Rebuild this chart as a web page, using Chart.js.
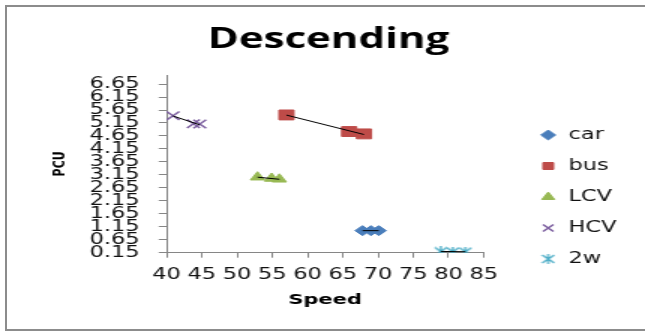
<!DOCTYPE html>
<html>
<head>
<meta charset="utf-8">
<script src="https://cdn.jsdelivr.net/npm/chart.js@4.4.1/dist/chart.umd.min.js"></script>
<style>
  html, body { margin: 0; padding: 0; background: #fff; overflow: hidden; width: 645px; height: 334px; }
  #frame { position: absolute; left: 5px; top: 5px; width: 700px; height: 322px; border: 2px solid #8c8c8c; box-sizing: content-box; }
  #wrap { position: absolute; left: 0; top: 0; width: 430px; height: 334px; transform: scaleX(1.5); transform-origin: 0 0; }
</style>
</head>
<body>
<div id="frame"></div>
<div id="wrap"><canvas id="c"></canvas></div>
<script>
// ---- data ----
const seriesNames = ['car', 'bus', 'LCV', 'HCV', '2w'];
const carSpeed = [67.8, 69.0, 70.1];
const carPCU   = [1.00, 1.00, 1.00];
const busSpeed = [57.0, 65.9, 68.0];
const busPCU   = [5.46, 4.82, 4.73];
const lcvSpeed = [52.9, 54.9, 56.0];
const lcvPCU   = [3.06, 3.01, 2.98];
const hcvSpeed = [40.9, 43.8, 44.7];
const hcvPCU   = [5.43, 5.12, 5.11];
const twSpeed  = [78.9, 80.6, 82.4];
const twPCU    = [0.20, 0.19, 0.19];
const yTickLabels = [0.15, 0.65, 1.15, 1.65, 2.15, 2.65, 3.15, 3.65, 4.15, 4.65, 5.15, 5.65, 6.15, 6.65];
const xTickLabels = [40, 45, 50, 55, 60, 65, 70, 75, 80, 85];

const colors = ['#4A7EBB', '#BE4B48', '#98B954', '#7D60A0', '#46AAC5'];

function pts(xs, ys) { return xs.map((x, i) => ({ x: x, y: ys[i] })); }
// linear trendline through a series (as the spreadsheet's linear trendline)
function trend(xs, ys) {
  const n = xs.length;
  const mx = xs.reduce((a, b) => a + b, 0) / n;
  const my = ys.reduce((a, b) => a + b, 0) / n;
  let sxy = 0, sxx = 0;
  for (let i = 0; i < n; i++) { sxy += (xs[i] - mx) * (ys[i] - my); sxx += (xs[i] - mx) * (xs[i] - mx); }
  const b = sxx ? sxy / sxx : 0, a = my - b * mx;
  const x0 = Math.min(...xs), x1 = Math.max(...xs);
  return [{ x: x0, y: a + b * x0 }, { x: x1, y: a + b * x1 }];
}

// custom "star" marker (x with vertical bar)
function starMarker(color) {
  const c = document.createElement('canvas');
  c.width = 10; c.height = 10;
  const g = c.getContext('2d');
  g.strokeStyle = color; g.lineWidth = 1.3;
  g.beginPath();
  g.moveTo(1, 1); g.lineTo(9, 9);
  g.moveTo(9, 1); g.lineTo(1, 9);
  g.moveTo(5, 0); g.lineTo(5, 10);
  g.stroke();
  return c;
}
const star = starMarker(colors[4]);

const all = [
  [carSpeed, carPCU, 'rectRot', 5],
  [busSpeed, busPCU, 'rect', 7],
  [lcvSpeed, lcvPCU, 'triangle', 5.5],
  [hcvSpeed, hcvPCU, 'crossRot', 6],
  [twSpeed, twPCU, star, 5]
];

const datasets = [];
all.forEach((s, i) => {
  datasets.push({
    label: seriesNames[i],
    data: pts(s[0], s[1]),
    pointStyle: s[2],
    pointRadius: s[3],
    pointHoverRadius: s[3],
    backgroundColor: colors[i],
    borderColor: colors[i],
    borderWidth: (i === 3) ? 1.5 : 1,
    showLine: false,
    order: 1
  });
});
all.forEach((s, i) => {
  datasets.push({
    label: '',
    type: 'line',
    data: trend(s[0], s[1]),
    borderColor: '#000',
    borderWidth: 1,
    pointRadius: 0,
    showLine: true,
    fill: false,
    order: 0
  });
});

const boxShift = {
  id: 'boxShift',
  afterLayout(chart) {
    const lg = chart.legend;
    if (lg) {
      lg.left += 21; lg.right += 21;
      lg.top += 30; lg.bottom += 30;
    }
    const tb = chart.titleBlock;
    if (tb) { tb.left += 19; tb.right += 19; }
  }
};

Chart.defaults.font.family = 'DejaVu Sans';
Chart.defaults.color = '#111';

new Chart(document.getElementById('c'), {
  type: 'scatter',
  data: { datasets: datasets },
  plugins: [boxShift],
  options: {
    responsive: true,
    maintainAspectRatio: false,
    animation: false,
    devicePixelRatio: 1,
    layout: { padding: { left: 0, top: 0, bottom: 0, right: 30 } },
    plugins: {
      tooltip: { enabled: false },
      title: {
        display: true,
        text: 'Descending',
        color: '#000',
        font: { family: 'Open Sans', size: 28, weight: 'bold' },
        padding: { top: 23, bottom: 18.4 }
      },
      legend: {
        display: true,
        position: 'right',
        align: 'center',
        labels: {
          usePointStyle: true,
          boxWidth: 12,
          boxHeight: 7,
          padding: 16,
          color: '#111',
          font: { size: 15 },
          filter: (item) => item.text !== ''
        }
      }
    },
    scales: {
      x: {
        type: 'linear',
        min: 40,
        max: 85,
        afterFit: (s) => { s.height = 81.3; },
        afterBuildTicks: (s) => { s.ticks = xTickLabels.map(v => ({ value: v })); },
        ticks: { autoSkip: false, maxRotation: 0, padding: 8, font: { size: 15 }, color: '#111' },
        grid: { display: true, drawOnChartArea: false, drawTicks: true, tickLength: 5, color: '#868686' },
        border: { display: true, color: '#868686', width: 1 },
        title: { display: true, text: 'Speed', color: '#000', font: { size: 14, weight: 'bold' }, padding: { top: 0, bottom: 25 } }
      },
      y: {
        type: 'linear',
        min: 0.15,
        max: 7.0,
        afterFit: (s) => { s.width = 111.1; },
        afterBuildTicks: (s) => { s.ticks = yTickLabels.map(v => ({ value: v })); },
        ticks: { autoSkip: false, padding: 12.7, font: { size: 15, lineHeight: 1 }, color: '#111', callback: (v) => Number(v).toFixed(2) },
        grid: { display: true, drawOnChartArea: false, drawTicks: true, tickLength: 5.3, color: '#868686' },
        border: { display: true, color: '#868686', width: 1 },
        title: { display: true, text: 'PCU', color: '#000', font: { size: 11, weight: 'bold' }, padding: { top: 33.4, bottom: 0 } }
      }
    }
  }
});
</script>
</body>
</html>
